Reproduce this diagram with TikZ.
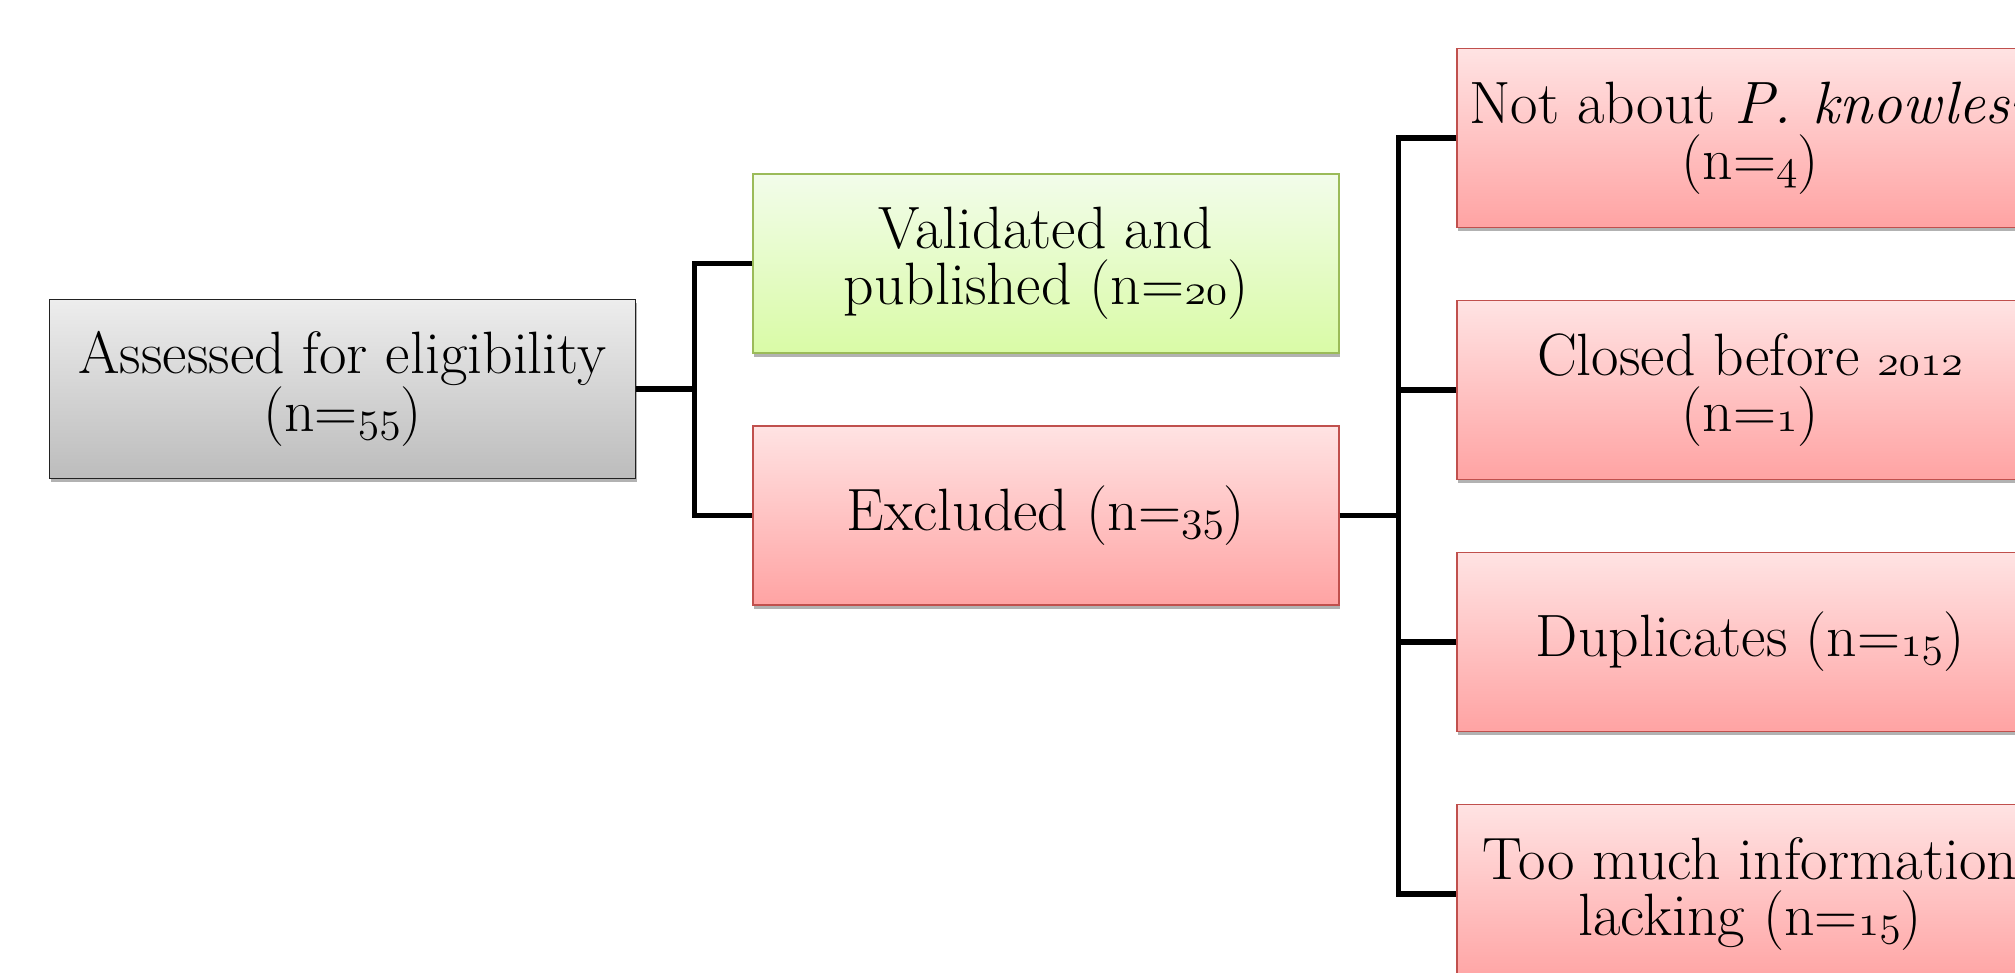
\documentclass[tikz,border=0pt]{standalone}
\usepackage{tikz}
\usetikzlibrary{shadows}
\definecolor{greyTop}{HTML}{EDEDED}
\definecolor{greyBot}{HTML}{BCBCBC}
\definecolor{greyEdge}{HTML}{222222}
\definecolor{greenTop}{HTML}{F2FCEA}
\definecolor{greenBot}{HTML}{D9FBA6}
\definecolor{greenEdge}{HTML}{9BBB59}
\definecolor{redTop}{HTML}{FFE3E3}
\definecolor{redBot}{HTML}{FFA3A3}
\definecolor{redEdge}{HTML}{C0504D}
% old-style figures as in the source slide
\newcommand{\osnum}[1]{{\fontsize{40}{32}\usefont{OML}{lmm}{m}{it}#1}}

\begin{document}
\begin{tikzpicture}[
  box/.style={rectangle, draw, line width=0.8pt, minimum width=11.72cm, minimum height=3.58cm,
    align=center, inner sep=0pt, font=\fontsize{34}{32}\selectfont,
    drop shadow={shadow xshift=0.6pt, shadow yshift=-2.2pt, opacity=0.3, fill=black}},
  greybox/.style={box, draw=greyEdge, top color=greyTop, bottom color=greyBot},
  greenbox/.style={box, draw=greenEdge, top color=greenTop, bottom color=greenBot},
  redbox/.style={box, draw=redEdge, top color=redTop, bottom color=redBot},
  link/.style={line width=2.9pt, black}
]
  % Page size and crop
  \fill[white] (0,0) rectangle (40.3,19.46);
  \clip (0,0) rectangle (40.3,19.46);

  % Column positions
  \def\colA{6.85}
  \def\colB{20.92}
  \def\colC{35.0}
  \def\rowstep{5.04}

  % Left and middle boxes
  \node[greybox] (assessed) at (\colA, 11.68) {Assessed for eligibility\\(n=\osnum{55})};
  \node[greenbox] (valid) at (\colB, 14.19) {Validated and\\published (n=\osnum{20})};
  \node[redbox] (excl) at (\colB, 9.15) {Excluded (n=\osnum{35})};

  % Reasons for exclusion
  \foreach \name/\txt [count=\k] in {
      notpk/{Not about \textit{P. knowlesi}\\(n=\osnum{4})},
      closed/{Closed before \osnum{2012}\\(n=\osnum{1})},
      dupl/{Duplicates (n=\osnum{15})},
      lacking/{Too much information\\lacking (n=\osnum{15})}} {
    \node[redbox] (\name) at (\colC, 16.70 - \k*\rowstep + \rowstep) {\txt};
  }

  % Tree connectors
  \draw[link] (assessed.east) -- ++(1.17,0) coordinate (jA);
  \draw[link] (valid.west) -| (jA) |- (excl.west);
  \draw[link] (excl.east) -- ++(1.18,0) coordinate (jB);
  \draw[link] (notpk.west) -| (jB) |- (lacking.west);
  \draw[link] (closed.west) -- (closed.west -| jB);
  \draw[link] (dupl.west) -- (dupl.west -| jB);
\end{tikzpicture}
\end{document}
